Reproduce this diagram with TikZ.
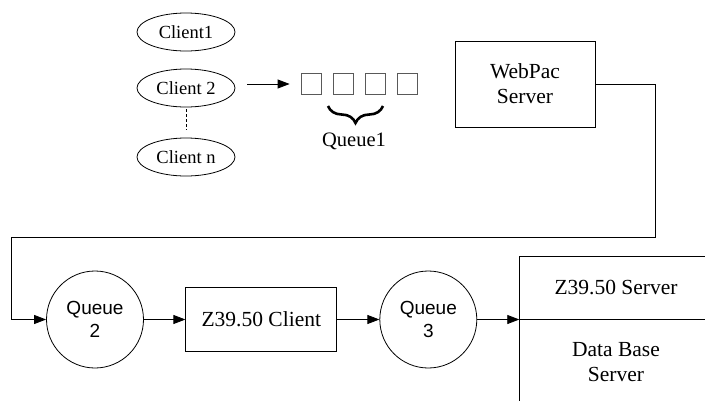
\documentclass[tikz,border=0pt]{standalone}
\usepackage{fontspec}
\setmainfont{Liberation Serif}
\newfontfamily\arialfont{Liberation Sans}
\usetikzlibrary{shapes.geometric,arrows.meta,decorations.pathreplacing}
\begin{document}
\begin{tikzpicture}[x=1pt,y=-1pt,
  line width=0.8pt,
  arr/.style={-{Triangle[length=12pt,width=9pt]}},
  client/.style={ellipse,draw,minimum width=98pt,minimum height=38pt,inner sep=0pt,font=\fontsize{18.5}{22}\selectfont},
  qsq/.style={draw=black!65,minimum width=20pt,minimum height=21pt,inner sep=0pt},
  box/.style={draw,inner sep=0pt,align=center,font=\fontsize{21.5}{25}\selectfont},
  qcirc/.style={circle,draw,minimum size=97pt,inner sep=0pt,align=center,font=\arialfont\fontsize{19}{23.7}\selectfont},
  lbl/.style={inner sep=0pt,align=center,font=\fontsize{21.5}{25}\selectfont}]
\useasboundingbox (0,0) rectangle (705,400);
\clip (0,0) rectangle (705,400);

% clients
\node[client] (c1) at (186,32) {Client1};
\node[client] (c2) at (186,88) {Client 2};
\node[client] (cn) at (186,157) {Client n};

% queue 1
\node[qsq] (s1) at (311,84) {};
\node[qsq] (s2) at (343,84) {};
\node[qsq] (s3) at (375.5,84) {};
\node[qsq] (s4) at (407,84) {};
\node[inner sep=0pt,font=\fontsize{20.5}{24}\selectfont] (q1) at (354,141.7) {Queue1};
\draw[decorate,decoration={brace,mirror,amplitude=17pt},line width=2.6pt] (328,106) -- (383,106);

% webpac
\node[box,minimum width=140pt,minimum height=86pt] (web) at (525,84) {WebPac\\Server};

% bottom row
\node[qcirc] (q2) at (95,319.5) {Queue\\2};
\node[box,minimum width=151pt,minimum height=64pt] (zc) at (261.3,319.5) {Z39.50 Client};
\node[qcirc] (q3) at (428.3,319.5) {Queue\\3};
\node[draw,anchor=north west,inner sep=0pt,minimum width=240pt,minimum height=300pt] (srv) at (519.3,255.7) {};
\draw (srv.west |- q3) -- (srv.east |- q3);
\node[lbl] (zs) at (616,287.7) {Z39.50 Server};
\node[lbl] (db) at (616,361.8) {Data Base\\Server};

% connectors
\draw[arr,shorten <=12pt,shorten >=11pt] (c2.east |- s1.west) -- (s1.west);
\draw[dash pattern=on 3pt off 2pt,shorten <=2pt,shorten >=8pt] (c2.south) -- (cn.north);
\coordinate (r1) at (655.7,237);
\coordinate (r0) at (11,237);
\draw[arr] (web.east) -| (r1) -- (r0) |- (q2.west);
\draw[arr] (q2.east) -- (zc.west);
\draw[arr] (zc.east) -- (q3.west);
\draw[arr] (q3.east) -- (q3.east -| srv.west);
\end{tikzpicture}
\end{document}
